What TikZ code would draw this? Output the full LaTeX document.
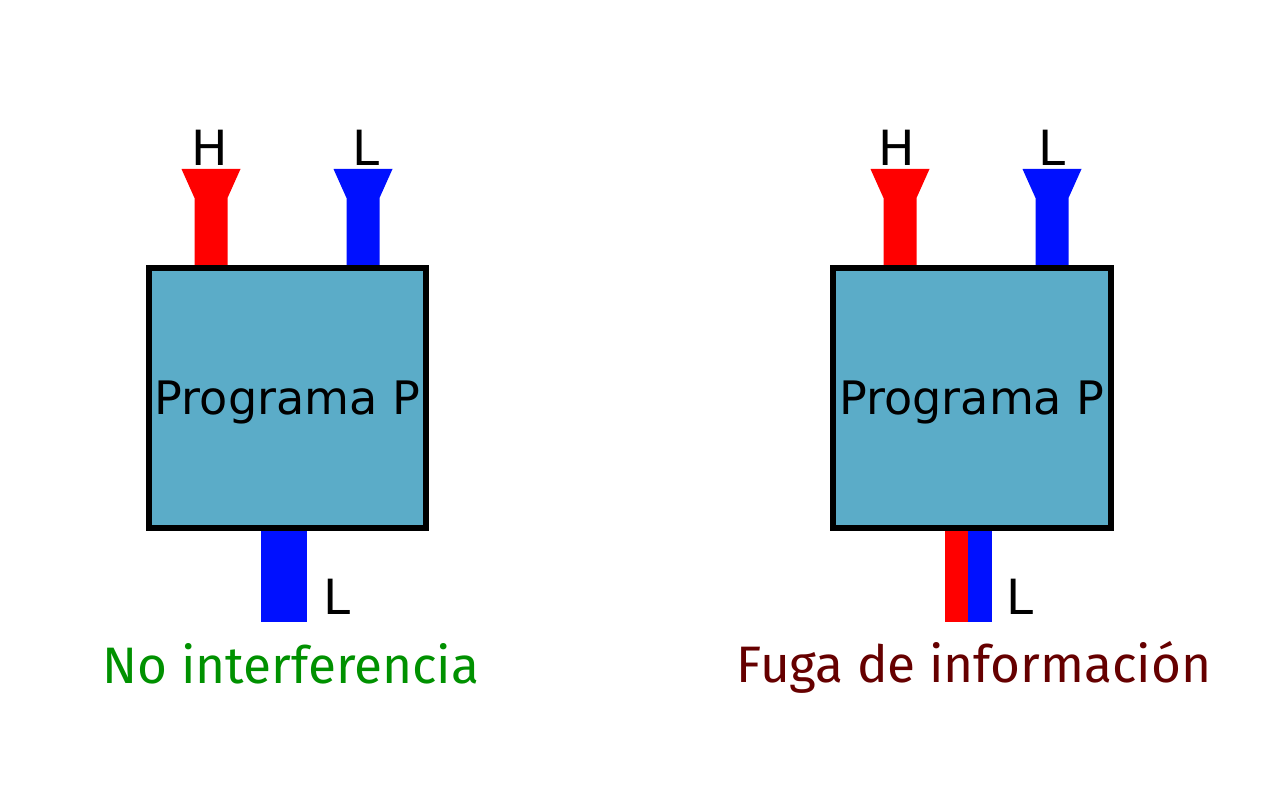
\documentclass[tikz,border=0pt]{standalone}
\usepackage{fontspec}
\setmainfont{DejaVu Sans}
\newfontfamily\firafont{Fira Sans}
\usetikzlibrary{positioning}

\definecolor{boxblue}{HTML}{5BACC8}
\definecolor{pipered}{HTML}{FF0000}
\definecolor{pipeblue}{HTML}{0010FF}
\definecolor{okgreen}{HTML}{009100}
\definecolor{leakred}{HTML}{660000}

% funnel-shaped input pipe: #1 colour, #2 centre x
\newcommand{\funnelpipe}[2]{%
  \fill[#1] (#2-29.5,169) -- (#2+29.5,169) -- (#2+16.5,198) -- (#2+16.5,268)
    -- (#2-16.5,268) -- (#2-16.5,198) -- cycle;}

\begin{document}
\begin{tikzpicture}[
    x=0.025cm, y=-0.025cm,
    prog/.style={rectangle, draw=black, fill=boxblue, line width=4.25pt,
      minimum width=6.925cm, minimum height=6.5cm, inner sep=0pt, text depth=0pt,
      font=\fontsize{32.8}{38}\selectfont},
    chan/.style={inner sep=0pt, font=\fontsize{34.5}{40}\selectfont},
    verdict/.style={anchor=base, inner sep=0pt, font=\firafont\fontsize{36.5}{44}\selectfont}
]
    \useasboundingbox (0,0) rectangle (1280,800);

    % Input pipes
    \funnelpipe{pipered}{211}
    \funnelpipe{pipeblue}{363}
    \funnelpipe{pipered}{900}
    \funnelpipe{pipeblue}{1052}

    % Output pipes
    \fill[pipeblue] (261,520) rectangle (307,622);
    \fill[pipered] (945,520) rectangle (968,622);
    \fill[pipeblue] (968,520) rectangle (992,622);

    % Programs
    \node[prog] (progA) at (287.5,398) {Programa P};
    \node[prog] (progB) at (972,398) {Programa P};

    % Channel labels
    \node[chan] (hA) at (210,148) {H};
    \node[chan] (lA) at (366,148) {L};
    \node[chan] (hB) at (897,148) {H};
    \node[chan] (lB) at (1052,148) {L};
    \node[chan] (outA) at (337,597) {L};
    \node[chan] (outB) at (1020,597) {L};

    % Verdicts
    \node[verdict, okgreen] (nonint) at (291,683) {No interferencia};
    \node[verdict, leakred] (leak) at (974,682) {Fuga de información};

\end{tikzpicture}
\end{document}
